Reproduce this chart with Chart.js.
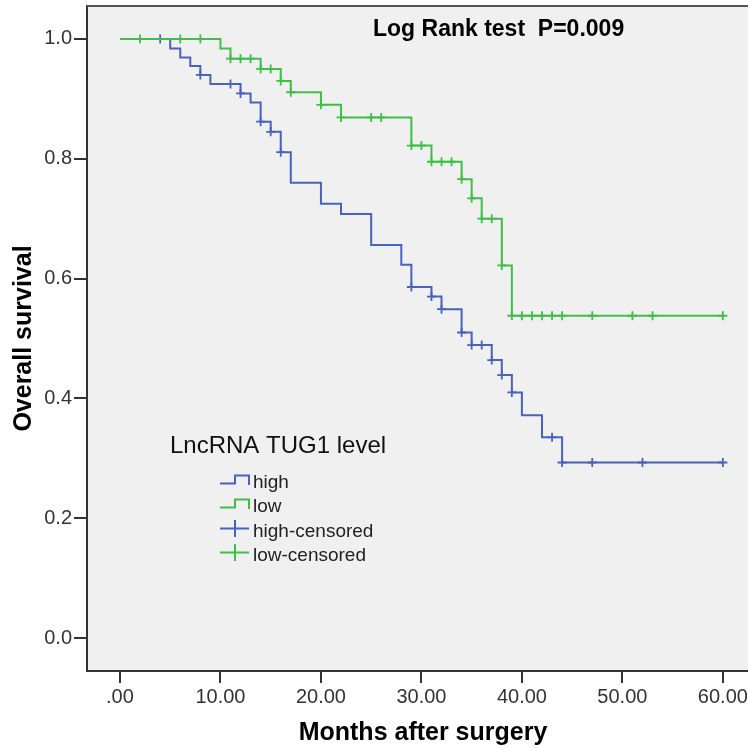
<!DOCTYPE html>
<html>
<head>
<meta charset="utf-8">
<script src="https://cdn.jsdelivr.net/npm/chart.js@4/dist/chart.umd.min.js"></script>
<style>
  html, body { margin: 0; padding: 0; background: #ffffff; }
  canvas { display: block; }
</style>
</head>
<body>
<canvas id="kmChart" width="748" height="748"></canvas>
<script>
// Kaplan-Meier curves, values

// high TUG1 group: event times (months) and survival after each drop
const highTimes = [0, 5, 6, 7, 8, 9, 12, 13, 14, 15, 16, 17, 20, 22, 25, 28, 29, 31, 32, 34, 35, 37, 38, 39, 40, 42, 44, 60];
const highSurv = [1, 0.984, 0.969, 0.955, 0.940, 0.925, 0.909, 0.894, 0.862, 0.845, 0.811, 0.760, 0.725, 0.708, 0.656, 0.623, 0.586, 0.570, 0.549, 0.510, 0.489, 0.464, 0.439, 0.410, 0.372, 0.335, 0.293, 0.293];
const highCensTimes = [4, 8, 11, 12, 14, 15, 16, 29, 31, 32, 34, 35, 36, 37, 38, 39, 43, 44, 47, 52, 60];
const highCensSurv = [1, 0.940, 0.925, 0.909, 0.862, 0.845, 0.811, 0.586, 0.570, 0.549, 0.510, 0.489, 0.489, 0.464, 0.439, 0.410, 0.335, 0.293, 0.293, 0.293, 0.293];

// low TUG1 group
const lowTimes = [0, 10, 11, 14, 16, 17, 20, 22, 29, 31, 34, 35, 36, 38, 39, 60];
const lowSurv = [1, 0.984, 0.967, 0.950, 0.930, 0.911, 0.890, 0.869, 0.822, 0.795, 0.766, 0.734, 0.700, 0.622, 0.538, 0.538];
const lowCensTimes = [2, 6, 8, 11, 12, 13, 14, 15, 16, 17, 20, 22, 25, 26, 29, 30, 31, 32, 33, 34, 35, 36, 37, 38, 39, 40, 41, 42, 43, 44, 47, 51, 53, 60];
const lowCensSurv = [1, 1, 1, 0.967, 0.967, 0.967, 0.950, 0.950, 0.930, 0.911, 0.890, 0.869, 0.869, 0.869, 0.822, 0.822, 0.795, 0.795, 0.795, 0.766, 0.734, 0.700, 0.700, 0.622, 0.538, 0.538, 0.538, 0.538, 0.538, 0.538, 0.538, 0.538, 0.538, 0.538];

// axis ticks
const xTickValues = [0, 10, 20, 30, 40, 50, 60];
const xTickLabels = ['.00', '10.00', '20.00', '30.00', '40.00', '50.00', '60.00'];
const yTickValues = [0, 0.2, 0.4, 0.6, 0.8, 1.0];
const yTickLabels = ['0.0', '0.2', '0.4', '0.6', '0.8', '1.0'];

const seriesLabels = ['high', 'low', 'high-censored', 'low-censored'];
const chartTitle = 'Log Rank test  P=0.009';
const legendTitle = 'LncRNA TUG1 level';
const xTitle = 'Months after surgery';
const yTitle = 'Overall survival';

const BLUE = '#4862c0';
const GREEN = '#3fbe48';
const tickFont = "'Liberation Sans', Arial, sans-serif";

function toPoints(xs, ys) {
    return xs.map((x, i) => ({ x: x, y: ys[i] }));
}

// background, frame and all the extra text
const spssDecor = {
    id: 'spssDecor',
    beforeDraw(chart) {
        const { ctx, chartArea: a } = chart;
        ctx.save();
        ctx.fillStyle = '#ffffff';
        ctx.fillRect(0, 0, chart.width, chart.height);
        ctx.fillStyle = '#f0f0f0';
        ctx.fillRect(a.left, a.top, a.right - a.left, a.bottom - a.top);
        ctx.restore();
    },
    afterDraw(chart) {
        const { ctx, chartArea: a } = chart;
        ctx.save();

        // top edge of the frame
        ctx.strokeStyle = '#555';
        ctx.lineWidth = 2;
        ctx.beginPath();
        ctx.moveTo(a.left, a.top);
        ctx.lineTo(a.right, a.top);
        ctx.stroke();

        // chart title inside plot
        ctx.fillStyle = '#000';
        ctx.font = "bold 23px 'Liberation Sans', Arial, sans-serif";
        ctx.textAlign = 'left';
        ctx.textBaseline = 'alphabetic';
        ctx.fillText(chartTitle, 373, 36);

        // axis titles
        ctx.font = "bold 25px 'Liberation Sans', Arial, sans-serif";
        ctx.textAlign = 'center';
        ctx.fillText(xTitle, 423, 740);
        ctx.save();
        ctx.translate(24, (a.top + a.bottom) / 2);
        ctx.rotate(-Math.PI / 2);
        ctx.textBaseline = 'middle';
        ctx.fillText(yTitle, 0, 0);
        ctx.restore();

        // legend
        ctx.textAlign = 'left';
        ctx.textBaseline = 'alphabetic';
        ctx.fillStyle = '#111';
        ctx.font = "24px 'Liberation Sans', Arial, sans-serif";
        ctx.fillText(legendTitle, 170, 453);

        ctx.font = "19px 'Liberation Sans', Arial, sans-serif";
        const baselines = [488, 512, 537, 561];
        const colors = [BLUE, GREEN, BLUE, GREEN];
        ctx.lineWidth = 2;
        for (let i = 0; i < 4; i++) {
            const b = baselines[i];
            ctx.strokeStyle = colors[i];
            ctx.beginPath();
            if (i < 2) {
                const lo = b - 4.5, hi = b - 12.5;
                ctx.moveTo(220, lo);
                ctx.lineTo(235, lo);
                ctx.lineTo(235, hi);
                ctx.lineTo(249, hi);
                ctx.lineTo(249, lo + 1.5);
            } else {
                const mid = b - 8.5;
                ctx.moveTo(220, mid);
                ctx.lineTo(249, mid);
                ctx.moveTo(235, mid - 8.5);
                ctx.lineTo(235, mid + 8.5);
            }
            ctx.stroke();
            ctx.fillStyle = '#222';
            ctx.fillText(seriesLabels[i], 253, b);
        }
        ctx.restore();
    }
};

const ctx = document.getElementById('kmChart').getContext('2d');

new Chart(ctx, {
    data: {
        datasets: [
            {
                type: 'line',
                label: seriesLabels[1],
                data: toPoints(lowTimes, lowSurv),
                stepped: true,
                borderColor: GREEN,
                borderWidth: 2,
                pointRadius: 0,
                fill: false
            },
            {
                type: 'line',
                label: seriesLabels[0],
                data: toPoints(highTimes, highSurv),
                stepped: true,
                borderColor: BLUE,
                borderWidth: 2,
                pointRadius: 0,
                fill: false
            },
            {
                type: 'scatter',
                label: seriesLabels[3],
                data: toPoints(lowCensTimes, lowCensSurv),
                pointStyle: 'cross',
                pointRadius: 4.5,
                borderColor: GREEN,
                borderWidth: 1.8
            },
            {
                type: 'scatter',
                label: seriesLabels[2],
                data: toPoints(highCensTimes, highCensSurv),
                pointStyle: 'cross',
                pointRadius: 4.5,
                borderColor: BLUE,
                borderWidth: 1.8
            }
        ]
    },
    options: {
        responsive: false,
        animation: false,
        layout: {
            autoPadding: false,
            padding: 0
        },
        plugins: {
            legend: { display: false },
            title: { display: false },
            tooltip: { enabled: false }
        },
        scales: {
            x: {
                type: 'linear',
                min: -3.28,
                max: 62.5,
                afterBuildTicks: function (scale) {
                    scale.ticks = xTickValues.map(v => ({ value: v }));
                },
                afterFit: function (scale) {
                    scale.height = 77;
                    scale.paddingLeft = 0;
                    scale.paddingRight = 0;
                },
                grid: {
                    drawOnChartArea: false,
                    drawTicks: true,
                    tickLength: 12,
                    color: '#333',
                    lineWidth: 2
                },
                border: { display: true, color: '#333', width: 2 },
                ticks: {
                    color: '#333',
                    padding: 2,
                    maxRotation: 0,
                    autoSkip: false,
                    font: { size: 20, family: tickFont },
                    callback: function (value, index) {
                        return xTickLabels[index];
                    }
                }
            },
            y: {
                type: 'linear',
                min: -0.055,
                max: 1.055,
                afterBuildTicks: function (scale) {
                    scale.ticks = yTickValues.map(v => ({ value: v }));
                },
                afterFit: function (scale) {
                    scale.width = 87;
                    scale.paddingTop = 6;
                    scale.paddingBottom = 0;
                },
                grid: {
                    drawOnChartArea: false,
                    drawTicks: true,
                    tickLength: 13,
                    color: '#333',
                    lineWidth: 2
                },
                border: { display: true, color: '#333', width: 2 },
                ticks: {
                    color: '#333',
                    padding: 2,
                    autoSkip: false,
                    font: { size: 20, family: tickFont },
                    callback: function (value, index) {
                        return yTickLabels[index];
                    }
                }
            }
        }
    },
    plugins: [spssDecor]
});
</script>
</body>
</html>
